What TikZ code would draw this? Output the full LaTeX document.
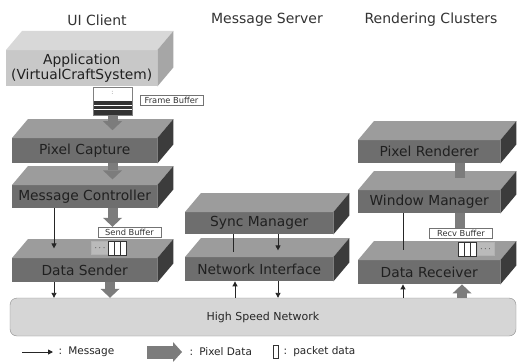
\documentclass[tikz,border=0pt]{standalone}
\usepackage{fontspec}
\setmainfont{DejaVu Sans}
\usetikzlibrary{calc,arrows.meta}
\definecolor{fronta}{HTML}{6E6E6E}
\definecolor{topa}{HTML}{9C9C9C}
\definecolor{sidea}{HTML}{3C3C3C}
\definecolor{frontb}{HTML}{C8C8C8}
\definecolor{topb}{HTML}{D8D8D8}
\definecolor{sideb}{HTML}{A6A6A6}
\definecolor{txtd}{HTML}{202020}
\definecolor{fatg}{HTML}{7C7C7C}
\definecolor{netg}{HTML}{D6D6D6}
\newcommand\myblk[7]{%
  \node[front#7, minimum width=#4pt, minimum height=#5pt] (#1) at (#2,#3) {#6};
  \fill[top#7] (#1.north west) -- ++(16pt,19pt) -- ($(#1.north east)+(16pt,19pt)$) -- (#1.north east) -- cycle;
  \fill[side#7] (#1.north east) -- ++(16pt,19pt) -- ($(#1.south east)+(16pt,19pt)$) -- (#1.south east) -- cycle;}
\tikzset{
  fronta/.style={fill=fronta, inner sep=0pt, anchor=north west, text=txtd, font=\fontsize{13.8}{15}\selectfont},
  frontb/.style={fill=frontb, inner sep=0pt, anchor=north west, text=txtd, align=center, font=\fontsize{13.8}{15.5}\selectfont},
  topa/.style={fill=topa}, sidea/.style={fill=sidea},
  topb/.style={fill=topb}, sideb/.style={fill=sideb},
  ttl/.style={font=\fontsize{14}{16}\selectfont, text=black!80},
  fat/.style={draw=fatg, line width=10pt, -{Triangle[width=19pt,length=9pt,line width=0pt]}},
  stub/.style={draw=fatg, line width=10pt},
  thinarr/.style={draw=black!85, line width=0.9pt, -{Triangle[width=5pt,length=5pt]}},
  thinln/.style={draw=black!85, line width=0.9pt},
  buflabel/.style={draw=black!55, fill=white, inner sep=1pt, minimum height=10pt, minimum width=63pt, font=\fontsize{8.3}{9}\selectfont, text=black!80},
  pkt/.style={draw=black!80, fill=white, line width=0.8pt, minimum width=5.5pt, minimum height=14pt, inner sep=0pt},
  dotsbox/.style={draw=black!30, fill=topa!70, inner sep=0pt, minimum width=17pt, minimum height=13pt, font=\fontsize{9}{9}\selectfont\bfseries},
  legend/.style={font=\fontsize{10.5}{12}\selectfont, anchor=west, text=black!85}
}
\begin{document}
\begin{tikzpicture}[x=1pt,y=-1pt]
\useasboundingbox[fill=white] (0,0) rectangle (518,361);
% titles
\node[ttl] (t1) at (97,20) {UI Client};
\node[ttl] (t2) at (267,20) {Message Server};
\node[ttl] (t3) at (431,20) {Rendering Clusters};
% blocks
\myblk{app}{6}{50}{151}{36}{Application\\(VirtualCraftSystem)}{b}
\myblk{pc}{12}{138}{145}{25}{Pixel Capture}{a}
\myblk{mc}{12}{185}{145}{23}{Message Controller}{a}
\myblk{ds}{12}{258}{145}{24}{Data Sender}{a}
\myblk{sm}{185}{212}{148}{22}{Sync Manager}{a}
\myblk{ni}{185}{257}{148}{24}{Network Interface}{a}
\myblk{pr}{358}{140}{142}{23}{Pixel Renderer}{a}
\myblk{wm}{358}{190}{142}{23}{Window Manager}{a}
\myblk{dr}{358}{260}{142}{24}{Data Receiver}{a}
% network
\node[draw=black!45, fill=netg, rounded corners=7pt, minimum width=506pt, minimum height=38pt, inner sep=0pt,
      font=\fontsize{11}{12}\selectfont, text=black!85] (net) at (263,317) {High Speed Network};
% frame buffer
\node[draw=black!50, fill=white, minimum width=39pt, minimum height=28pt, inner sep=0pt] (fb) at (112.5,101) {};
\fill[black!80] (93.5,101) rectangle (131.5,104.5);
\fill[black!80] (93.5,105.5) rectangle (131.5,109);
\fill[black!80] (93.5,110) rectangle (131.5,114.5);
\node[text=black!50, font=\fontsize{6}{6}\selectfont] (fbdots) at (112.5,93) {:};
\node[buflabel] (fbl) at (171.5,100) {Frame Buffer};
% send buffer
\node[buflabel] (sbl) at (129.5,232) {Send Buffer};
\node[dotsbox] (sdots) at (100,248) {$\cdots$};
\node[pkt] (sp1) at (111.5,248) {};
\node[pkt] (sp2) at (117.5,248) {};
\node[pkt] (sp3) at (123.5,248) {};
% recv buffer
\node[buflabel] (rbl) at (461,233) {Recv Buffer};
\node[pkt] (rp1) at (461.5,249) {};
\node[pkt] (rp2) at (467.5,249) {};
\node[pkt] (rp3) at (473.5,249) {};
\node[dotsbox] (rdots) at (485.5,249) {$\cdots$};
% client connectors
\draw[fat] (fb.south) -- ++(0,15);
\draw[fat] (pc.south -| fb.south) -- ++(0,16);
\draw[fat] (mc.south -| fb.south) -- (sbl.north -| fb.south);
\coordinate (mcL) at ($(mc.south west)+(42,0)$);
\draw[thinarr] (mcL) -- ++(0,40);
\coordinate (dsL) at ($(ds.south west)+(42,0)$);
\draw[thinarr] (dsL) -- (dsL |- net.north);
\coordinate (dsF) at ($(ds.south west)+(98,0)$);
\draw[fat] (dsF) -- (dsF |- net.north);
% server connectors
\coordinate (smL) at ($(sm.south west)+(48,0)$);
\draw[thinln] (smL) -- ++(0,18);
\coordinate (smR) at ($(sm.south west)+(93,0)$);
\draw[thinarr] (smR) -- ++(0,16);
\coordinate (niL) at ($(ni.south west)+(50,0)$);
\draw[thinarr] (niL |- net.north) -- (niL);
\coordinate (niR) at ($(ni.south west)+(93,0)$);
\draw[thinarr] (niR) -- (niR |- net.north);
% rendering connectors
\coordinate (prS) at ($(pr.south west)+(102,0)$);
\draw[stub] (prS) -- ++(0,15);
\coordinate (wmS) at ($(wm.south west)+(102,0)$);
\draw[stub] (wmS) -- (wmS |- rbl.north);
\coordinate (wmL) at ($(wm.south west)+(45,0)$);
\draw[thinln] (wmL) -- ++(0,37);
\coordinate (drL) at ($(dr.south west)+(45,0)$);
\draw[thinarr] (drL |- net.north) -- (drL);
\coordinate (drF) at ($(dr.south west)+(104,0)$);
\draw[fat] (drF |- net.north) -- (drF);
% legend
\coordinate (l1a) at (22,352);
\coordinate (l1b) at (53,352);
\draw[thinarr] (l1a) -- (l1b);
\node[legend] (lt1) at (55,352) {: \,Message};
\coordinate (l2a) at (147,352);
\coordinate (l2b) at (182,352);
\draw[draw=fatg, line width=13pt, -{Triangle[width=20pt,length=9pt,line width=0pt]}] (l2a) -- (l2b);
\node[legend] (lt2) at (186,352) {: \,Pixel Data};
\node[pkt, minimum width=5pt, minimum height=13pt, line width=0.7pt] (lp) at (275.5,352) {};
\node[legend] (lt3) at (280,352) {: \,packet data};
\end{tikzpicture}
\end{document}
